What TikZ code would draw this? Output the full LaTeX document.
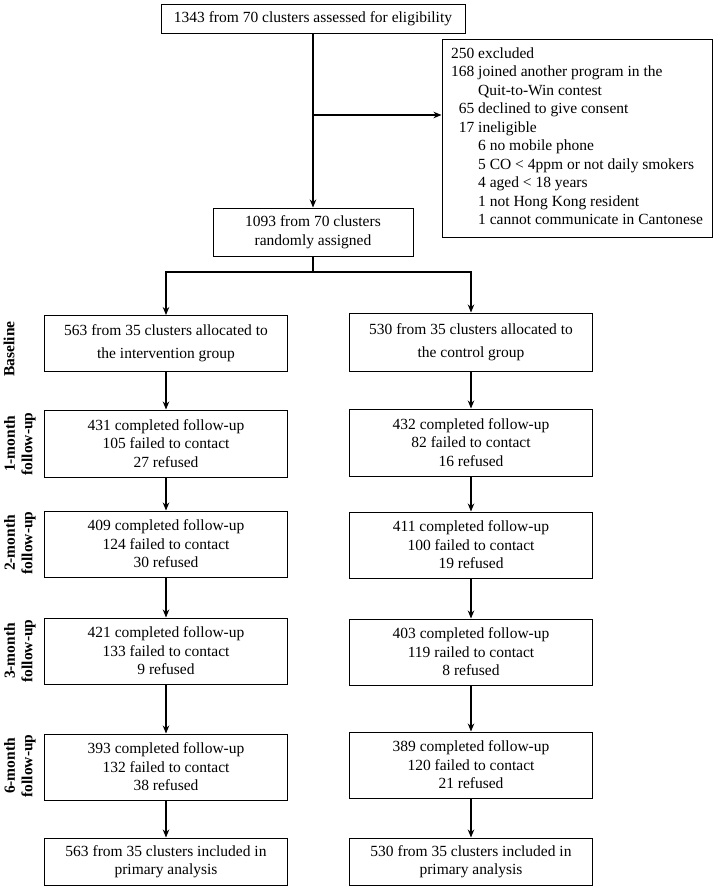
\documentclass[tikz,border=0pt]{standalone}
\usepackage{fontspec}
\setmainfont{Liberation Serif}
\usepackage{tikz}
\usetikzlibrary{positioning,calc,arrows.meta}
\tikzstyle{box} = [draw, line width=1pt, minimum width=243pt, align=center, inner sep=0pt, font=\fontsize{15.5}{18.5}\selectfont]
\tikzstyle{arrow} = [line width=1.1pt,-{Stealth[length=8pt,width=6.5pt]}]
\tikzstyle{lbl} = [rotate=90, align=center, font=\bfseries\fontsize{15.5}{17.5}\selectfont]

\begin{document}
\begin{tikzpicture}[x=1pt,y=-1pt]
\useasboundingbox (0,0) rectangle (716,889);
% screening
\node[box, minimum width=304pt, minimum height=29pt] (top) at (313,18.5) {1343 from 70 clusters assessed for eligibility};
\node[box, minimum width=270pt, minimum height=198pt] (excl) at (577,138) {\begin{tabular}{@{}r@{\ }l@{}}
250 & excluded\\
168 & joined another program in the\\
 & Quit-to-Win contest\\
65 & declined to give consent\\
17 & ineligible\\
 & 6 no mobile phone\\
 & 5 CO < 4ppm or not daily smokers\\
 & 4 aged < 18 years\\
 & 1 not Hong Kong resident\\
 & 1 cannot communicate in Cantonese
\end{tabular}};
\node[box, minimum width=200pt, minimum height=48pt] (rand) at (313,232) {1093 from 70 clusters\\randomly assigned};
% intervention group
\node[box, minimum height=56pt] (l0) at (166,343.5) {563 from 35 clusters allocated to\\[4.5pt]the intervention group};
\node[box, minimum height=67pt] (l1) at (166,443.5) {431 completed follow-up\\105 failed to contact\\27 refused};
\node[box, minimum height=66pt] (l2) at (166,544) {409 completed follow-up\\124 failed to contact\\30 refused};
\node[box, minimum height=66pt] (l3) at (166,651) {421 completed follow-up\\133 failed to contact\\9 refused};
\node[box, minimum height=66pt] (l4) at (166,767) {393 completed follow-up\\132 failed to contact\\38 refused};
\node[box, minimum height=47pt] (l5) at (166,861.5) {563 from 35 clusters included in\\primary analysis};
% control group
\node[box, minimum height=58pt] (r0) at (471,342) {530 from 35 clusters allocated to\\[4.5pt]the control group};
\node[box, minimum height=67pt] (r1) at (471,442.5) {432 completed follow-up\\82 failed to contact\\16 refused};
\node[box, minimum height=66pt] (r2) at (471,545) {411 completed follow-up\\100 failed to contact\\19 refused};
\node[box, minimum height=66pt] (r3) at (471,652) {403 completed follow-up\\119 railed to contact\\8 refused};
\node[box, minimum height=66pt] (r4) at (471,765) {389 completed follow-up\\120 failed to contact\\21 refused};
\node[box, minimum height=47pt] (r5) at (471,861.5) {530 from 35 clusters included in\\primary analysis};
% time points
\node[lbl] (t0) at (9,349) {Baseline};
\node[lbl] (t1) at (20,444) {1-month\\follow-up};
\node[lbl] (t2) at (20,543) {2-month\\follow-up};
\node[lbl] (t3) at (20,651) {3-month\\follow-up};
\node[lbl] (t4) at (20,766) {6-month\\follow-up};
% connectors
\draw[arrow] (top.south) -- (rand.north);
\coordinate (brk) at (313,115);
\draw[arrow] (brk) -- (brk -| excl.west);
\coordinate (split) at (313,272);
\draw[line width=1.1pt] (rand.south) -- (split);
\draw[arrow] (split) -| (l0.north);
\draw[arrow] (split) -| (r0.north);
\draw[arrow] (l0) -- (l1);
\draw[arrow] (l1) -- (l2);
\draw[arrow] (l2) -- (l3);
\draw[arrow] (l3) -- (l4);
\draw[arrow] (l4) -- (l5);
\draw[arrow] (r0) -- (r1);
\draw[arrow] (r1) -- (r2);
\draw[arrow] (r2) -- (r3);
\draw[arrow] (r3) -- (r4);
\draw[arrow] (r4) -- (r5);
\end{tikzpicture}
\end{document}
